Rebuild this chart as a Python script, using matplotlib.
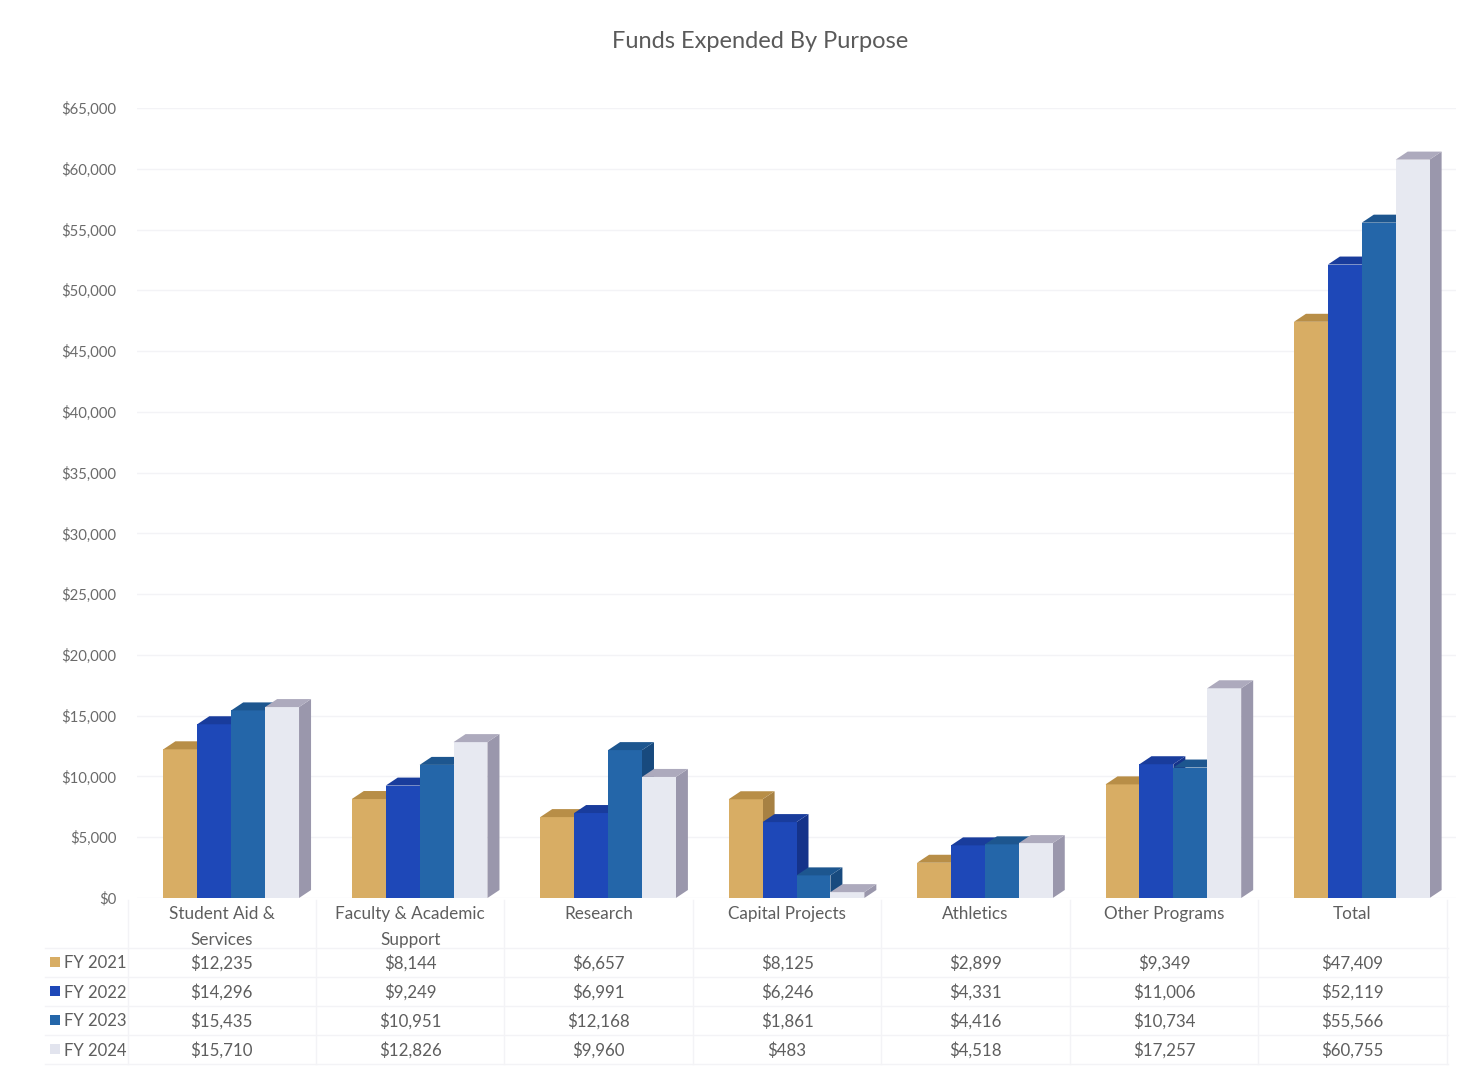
import matplotlib
matplotlib.use("Agg")
import matplotlib.pyplot as plt
from matplotlib.patches import Polygon
from matplotlib.transforms import blended_transform_factory

plt.rcParams['font.family'] = ['Lato', 'DejaVu Sans']

categories = ["Student Aid &\nServices", "Faculty & Academic\nSupport", "Research",
              "Capital Projects", "Athletics", "Other Programs", "Total"]
series_names = ["FY 2021", "FY 2022", "FY 2023", "FY 2024"]
fy2021 = [12235, 8144, 6657, 8125, 2899, 9349, 47409]
fy2022 = [14296, 9249, 6991, 6246, 4331, 11006, 52119]
fy2023 = [15435, 10951, 12168, 1861, 4416, 10734, 55566]
fy2024 = [15710, 12826, 9960, 483, 4518, 17257, 60755]
series = [fy2021, fy2022, fy2023, fy2024]
yticks = list(range(0, 65001, 5000))

front_colors = ["#D8AD64", "#1E48B8", "#2466A9", "#E7E9F1"]
top_colors = ["#B88E47", "#193C9C", "#1D568F", "#ADAABD"]
side_colors = ["#A78143", "#15338A", "#184A7E", "#9A97AC"]

W, H = 1480, 1080
fig = plt.figure(figsize=(W / 100, H / 100), dpi=100)
fig.patch.set_facecolor("white")

ax_left, ax_right = 137, 1456
ax_top, ax_bottom = 108, 898
ax = fig.add_axes([ax_left / W, 1 - ax_bottom / H, (ax_right - ax_left) / W, (ax_bottom - ax_top) / H])
ax.set_xlim(-0.5, len(categories) - 0.5)
ax.set_ylim(0, 65000)
for s in ax.spines.values():
    s.set_visible(False)
ax.set_xticks([])
ax.set_yticks(yticks)
ax.set_yticklabels([f"${v:,}" for v in yticks], color="#6A6A6A", fontsize=10.7)
ax.tick_params(axis="y", length=0, pad=15)
ax.yaxis.grid(True, color="#F3F3F6", linewidth=1.0)
ax.set_axisbelow(True)

# 3D look: offset of the back faces in data units
px_per_unit_x = (ax_right - ax_left) / len(categories)
px_per_unit_y = (ax_bottom - ax_top) / 65000
depth_x = 12 / px_per_unit_x
depth_y = 8 / px_per_unit_y

bar_w = 0.18
group_w = bar_w * len(series)
for i in range(len(categories)):
    for j, vals in enumerate(series):
        v = vals[i]
        x0 = i - group_w / 2 + j * bar_w
        x1 = x0 + bar_w
        front = Polygon([(x0, 0), (x1, 0), (x1, v), (x0, v)], closed=True,
                        facecolor=front_colors[j], edgecolor="none", zorder=3)
        top = Polygon([(x0, v), (x1, v), (x1 + depth_x, v + depth_y), (x0 + depth_x, v + depth_y)],
                      closed=True, facecolor=top_colors[j], edgecolor="none", zorder=3)
        side = Polygon([(x1, 0), (x1 + depth_x, depth_y), (x1 + depth_x, v + depth_y), (x1, v)],
                       closed=True, facecolor=side_colors[j], edgecolor="none", zorder=3)
        for p in (side, front, top):
            ax.add_patch(p)

# Title
fig.text(760 / W, 1 - 42 / H, "Funds Expended By Purpose", ha="center", va="center",
         fontsize=17, color="#5A5A5A")

# Data table beneath the plot
trans = blended_transform_factory(ax.transData, fig.transFigure)
label_shift = -0.05
txt_color = "#5E5E5E"
for i, cat in enumerate(categories):
    ax.text(i + label_shift, 1 - 906 / H, cat, transform=trans, ha="center", va="top",
            fontsize=12.3, color=txt_color, linespacing=1.75, clip_on=False)

row_y = [962, 991, 1020, 1049]
for j, (name, vals) in enumerate(zip(series_names, series)):
    fy = 1 - row_y[j] / H
    fig.text(64 / W, fy, name, ha="left", va="center_baseline", fontsize=12, color=txt_color)
    fig.patches.append(plt.Rectangle((50 / W, fy - 5 / H), 10 / W, 10 / H, transform=fig.transFigure,
                                     facecolor=front_colors[j] if j < 3 else "#E2E4EE",
                                     edgecolor="none"))
    for i, v in enumerate(vals):
        ax.text(i + label_shift, fy, f"${v:,}", transform=trans, ha="center", va="center_baseline",
                fontsize=12.2, color=txt_color, clip_on=False)

# Faint table grid lines
grid_c = "#F3F3F6"
for py in [948, 977, 1006, 1035, 1064]:
    fig.add_artist(plt.Line2D([45 / W, 1448 / W], [1 - py / H] * 2, color=grid_c, lw=1))
for i in range(len(categories) + 1):
    x = i - 0.5 + label_shift
    xf = (ax_left + (x + 0.5) * px_per_unit_x) / W
    fig.add_artist(plt.Line2D([xf, xf], [1 - 900 / H, 1 - 1064 / H], color=grid_c, lw=1))

fig.savefig("out.png", dpi=100, facecolor="white")
